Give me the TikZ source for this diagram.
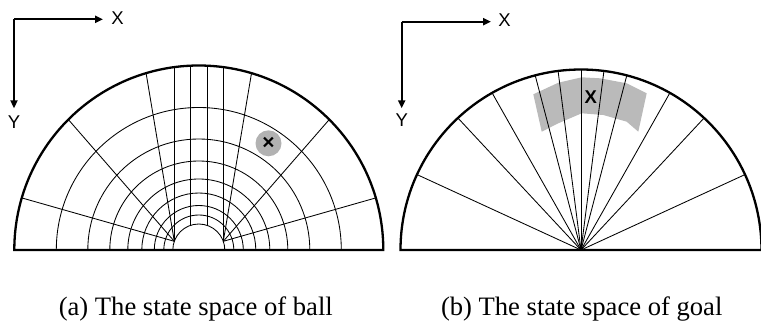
\documentclass[tikz,border=0pt]{standalone}
\usepackage{fontspec}
\setmainfont{Liberation Serif}
\newfontfamily\axisfont{Liberation Sans}
\usetikzlibrary{arrows.meta,calc}
\tikzset{
  thick line/.style={line width=2.3pt},
  grid line/.style={line width=0.85pt},
  axis arrow/.style={line width=2pt,-{Triangle[length=8pt,width=7pt]}},
  axis label/.style={font=\axisfont\fontsize{18.5}{18.5}\selectfont,inner sep=0pt},
  caption/.style={font=\fontsize{26.6}{26.6}\selectfont,anchor=base,inner sep=0pt},
}
\begin{document}
\begin{tikzpicture}[x=1pt,y=1pt]
\useasboundingbox (0,0) rectangle (761,330);
% ---------------- panel (a) ----------------
\coordinate (OA) at (198.8,80);
% concentric arcs
\foreach \r in {142.5,111,89,71,57,44.5,35}{
  \draw[grid line] ($(OA)+(\r,0)$) arc (0:180:\r);
}
% hole
\draw[grid line] ($(OA)+(26,0)$) arc (0:180:26);
% vertical lines
\foreach \dx in {-24.5,-8.3,8.3,24.5}{
  \draw[grid line] ($(OA)+(\dx,{sqrt(26*26-\dx*\dx)})$) -- ($(OA)+(\dx,{184.5*sqrt(1-(\dx/184.5)*(\dx/184.5))})$);
}
% radial lines
\coordinate (FL) at ($(OA)+(-24.5,{sqrt(26*26-24.5*24.5)})$);
\coordinate (FR) at ($(OA)+(24.5,{sqrt(26*26-24.5*24.5)})$);
\foreach \a in {106.6,135,163.6}{
  \draw[grid line] (FL) -- ($(OA)+(\a:184.5)$);
}
\foreach \a in {73.4,45,16.4}{
  \draw[grid line] (FR) -- ($(OA)+(\a:184.5)$);
}
% outer boundary
\draw[thick line] ($(OA)+(184.5,0)$) arc (0:180:184.5) -- cycle;
% ball estimate
\fill[black!30] (268.5,186.7) circle (13);
\node[font=\axisfont\bfseries\fontsize{21}{21}\selectfont,inner sep=0pt] (ballx) at (268.5,187) {×};
% axes (a)
\coordinate (ca) at (14,310.7);
\coordinate (xa) at (103,310.7);
\coordinate (ya) at (14,221.7);
\draw[axis arrow] (ca) -- (xa);
\draw[axis arrow] (ca) -- (ya);
\node[axis label] (XA) at (117.5,311.5) {X};
\node[axis label] (YA) at (14,208) {Y};
\node[caption] (capa) at (195.8,15) {(a) The state space of ball};
% ---------------- panel (b) ----------------
\coordinate (OB) at (581,80);
\fill[black!27] (533.3,235.7) -- (558.3,247.3) -- (581.7,252.7) -- (600,251.7) -- (626.7,246.7) -- (646.7,236.7)
  -- (638.3,198.3) -- (626.7,208.3) -- (603.3,215) -- (581.7,216.7) -- (558.3,206.7) -- (541.7,198.3) -- cycle;
\foreach \a in {24.7,47,60.5,75.3,82.7,90,97.3,104.7,119.5,133,155.3}{
  \draw[grid line] (OB) -- ($(OB)+(\a:180.5)$);
}
\draw[thick line] ($(OB)+(180.5,0)$) arc (0:180:180.5) -- cycle;
\node[font=\axisfont\bfseries\fontsize{18.5}{18.5}\selectfont,inner sep=0pt] (goalx) at (590.7,232.7) {X};
% axes (b)
\coordinate (cb) at (401.7,308.3);
\coordinate (xb) at (491,308.3);
\coordinate (yb) at (401.7,221.7);
\draw[axis arrow] (cb) -- (xb);
\draw[axis arrow] (cb) -- (yb);
\node[axis label] (XB) at (504.5,310) {X};
\node[axis label] (YB) at (401.7,209.5) {Y};
\node[caption] (capb) at (581.7,15) {(b) The state space of goal};
\end{tikzpicture}
\end{document}
